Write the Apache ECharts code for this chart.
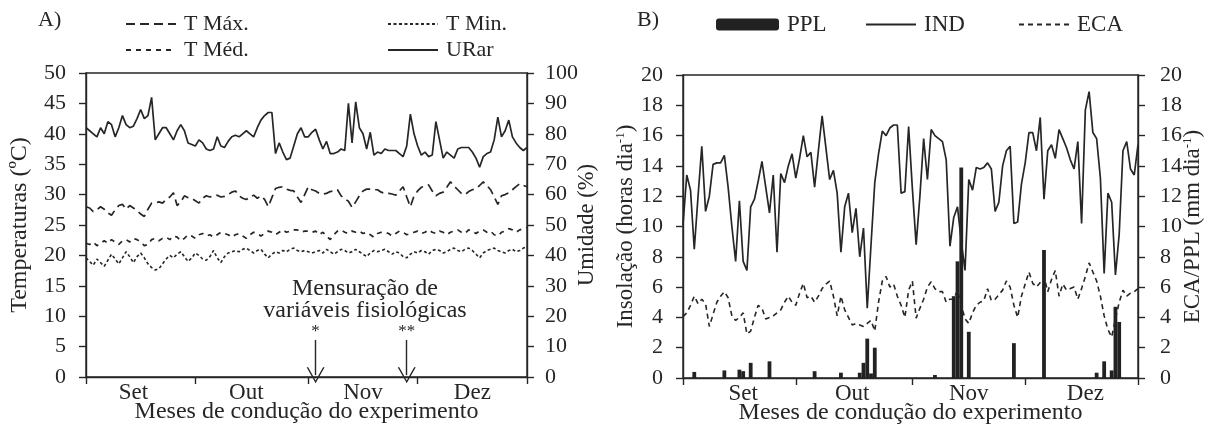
<!DOCTYPE html>
<html>
<head>
<meta charset="utf-8">
<script src="https://cdn.jsdelivr.net/npm/echarts@6/dist/echarts.min.js"></script>
<style>
  html, body { margin: 0; padding: 0; background: #fff; }
  #chart { width: 1211px; height: 427px; }
</style>
</head>
<body>
<div id="chart"></div>
<script>
// months of the experiment (Sept - Dec), one point per day
const months = ['Set', 'Out', 'Nov', 'Dez'];
const monthDays = [30, 31, 30, 31];
// day index under which each month name is written (panel A / panel B)
const monthLabelDayA = [13, 44, 76, 106];
const monthLabelDayB = [16, 45, 76, 107];

// A) air humidity (%) and temperatures (ºC)
const uRar = [
  82, 81, 80, 79, 82, 80, 84, 83, 79, 82,
  86, 83, 82, 82.5, 85, 88, 85, 86, 92, 78,
  80, 82, 82, 80, 78, 81, 83, 81, 77, 76.5,
  76, 78, 77, 75, 74.5, 75, 79, 76, 75.5, 77.5,
  79, 79.5, 79, 80, 81, 80, 79, 82, 84.5, 86,
  87, 87, 73.5, 77, 74, 71.5, 72, 76, 80, 82,
  79, 79, 80.5, 81.5, 78, 75, 77.5, 73.5, 73.5, 74,
  75, 74.5, 90, 77, 90.5, 82, 80, 75, 80.5, 73,
  74, 73.5, 75, 74.5, 74.5, 74.5, 73.5, 72.5, 76, 86.5,
  80, 76, 73, 74, 72.5, 73, 84, 78, 72, 74,
  73, 72, 75, 75.5, 75.5, 75.5, 74, 72, 69, 72.5,
  73.5, 74, 78, 85.5, 79, 81, 84.5, 79, 77, 75.5,
  74.5, 75.5
];
const tMax = [
  28, 27.8, 27.2, 27.5, 28, 27.6, 27, 26.6, 27.5, 28.2,
  28.4, 27.6, 28.2, 27.8, 27.4, 26.8, 26.4, 27.6, 28.6, 28.6,
  28.8, 28.6, 29.2, 29.6, 30.3, 28.2, 28.8, 29.8, 29.5, 29.4,
  29, 28.6, 29.4, 29.8, 29.6, 29.8, 29.9, 29.6, 29.7, 30,
  30.4, 30.6, 29.8, 29.4, 29.2, 29.6, 29.9, 29.4, 29.8, 29.2,
  28, 29.5, 31, 31.2, 31.3, 30.9, 30.7, 30.6, 29.6, 28.7,
  30, 31.3, 30.8, 30.6, 30.2, 30.1, 30.2, 30.5, 30.6, 30.8,
  29.8, 29.3, 28.9, 27.9, 28.8, 29.8, 30.6, 30.9, 30.9, 30.8,
  30.8, 30.4, 30.2, 30.2, 30.1, 29.9, 30.6, 31.3, 29.6, 28,
  29.8, 30.6, 31.2, 31.4, 31.6, 30.6, 29.8, 30.2, 30.4, 31.2,
  32.1, 31.4, 30.8, 30.2, 30, 30.5, 30.8, 31, 31.5, 32.1,
  31.5, 30.8, 29.6, 28.4, 29.8, 30, 30.3, 30.8, 31.3, 31.8,
  31.5, 31.3
];
const tMed = [
  22.0, 21.8, 22.2, 21.6, 22.0, 22.4, 22.0, 22.6, 22.2, 21.8,
  22.4, 22.6, 22.2, 22.8, 22.6, 22.2, 21.6, 21.8, 22.6, 22.8,
  22.4, 22.8, 23.0, 22.6, 23.2, 23.0, 22.4, 22.8, 23.4, 23.2,
  22.8, 23.4, 23.6, 23.2, 23.4, 23.0, 23.4, 23.8, 23.6, 23.4,
  23.0, 23.4, 23.6, 23.2, 22.8, 23.4, 23.8, 23.6, 23.2, 23.6,
  24.0, 23.8, 23.4, 23.8, 24.2, 23.8, 24.0, 24.2, 24.2, 23.8,
  24.0, 24.0, 23.8, 24.0, 23.4, 23.8, 23.2, 22.6, 23.4, 24.0,
  24.2, 23.8, 23.6, 24.0, 23.8, 24.0, 23.6, 23.8, 23.4, 23.0,
  23.6, 23.8, 23.8, 23.6, 23.2, 23.6, 24.0, 23.8, 23.4, 23.6,
  23.8, 24.0, 23.6, 23.8, 24.2, 23.8, 23.6, 24.0, 23.8, 23.4,
  23.8, 24.0, 24.2, 23.8, 23.6, 24.2, 24.0, 23.6, 24.0, 24.2,
  23.8, 24.0, 23.4, 23.2, 23.8, 24.0, 24.4, 24.2, 23.8, 24.2,
  24.4, 24.6
];
const tMin = [
  19.6, 19.0, 18.4, 19.4, 18.8, 18.2, 19.2, 20.2, 19.4, 18.6,
  19.6, 20.6, 19.8, 18.8, 19.8, 20.4, 19.6, 18.6, 18.0, 17.6,
  17.8, 18.6, 19.4, 20.0, 19.6, 20.2, 20.6, 19.8, 19.0, 19.6,
  20.4, 20.0, 19.4, 19.2, 19.8, 20.8, 19.6, 18.8, 19.8, 20.4,
  20.6, 20.8, 20.6, 21.0, 21.2, 20.8, 20.4, 20.8, 21.0, 20.2,
  19.6, 20.2, 20.6, 20.4, 20.8, 20.6, 21.0, 21.2, 20.8, 20.6,
  20.8, 20.6, 20.4, 20.6, 20.8, 20.4, 21.0, 20.6, 20.2, 20.6,
  21.0, 20.8, 20.4, 20.6, 21.0, 20.6, 20.2, 19.8, 20.4, 20.8,
  20.6, 20.8, 21.0, 20.6, 20.2, 20.6, 20.4, 19.8, 19.6, 20.2,
  20.6, 20.4, 20.8, 20.6, 20.2, 20.8, 21.0, 20.8, 20.4, 20.6,
  21.0, 21.2, 20.8, 20.6, 21.0, 21.2, 20.8, 20.2, 19.6, 20.4,
  20.8, 21.0, 21.2, 20.8, 20.6, 20.4, 20.8, 21.0, 20.6, 20.8,
  21.2, 21.4
];
// days on which physiological variables were measured
const measureDays = [63, 88];
const measureMarks = ['*', '**'];

// B) insolation (h/day), class A pan evaporation and rainfall (mm/day)
const ind = [
  10.1, 13.4, 12.4, 8.5, 12.0, 15.3, 11.0, 12.0, 14.1, 14.2,
  14.2, 14.7, 12.6, 10.0, 7.7, 11.7, 7.7, 7.1, 11.3, 11.8,
  13.0, 14.3, 12.6, 10.9, 13.4, 8.3, 13.5, 12.9, 14.0, 14.8,
  13.2, 14.5, 16.0, 14.6, 14.9, 12.6, 15.0, 17.3, 15.2, 13.1,
  13.7, 12.2, 8.3, 11.3, 12.2, 9.6, 11.2, 8.0, 9.9, 4.6,
  8.8, 12.9, 14.8, 16.3, 16.0, 16.5, 16.7, 16.7, 12.2, 12.3,
  16.6, 12.5, 8.8, 12.0, 15.8, 13.1, 16.4, 16.0, 15.8, 15.6,
  14.4, 8.7, 10.6, 11.3, 9.0, 7.1, 13.1, 12.4, 13.9, 13.8,
  13.9, 14.2, 13.8, 11.0, 11.6, 14.0, 15.0, 15.3, 10.2, 10.3,
  12.8, 14.2, 16.2, 16.2, 15.0, 17.2, 11.8, 15.0, 15.4, 14.5,
  16.4, 15.8, 15.2, 14.4, 13.8, 15.6, 10.2, 17.7, 18.9, 16.2,
  15.8, 13.2, 6.9, 12.2, 11.6, 6.8, 9.5, 15.0, 15.6, 13.8,
  13.4, 15.4
];
const eca = [
  4.05, 4.3, 4.8, 5.4, 4.9, 5.2, 4.9, 3.4, 4.2, 5.0,
  5.4, 5.7, 5.3, 4.1, 3.8, 4.0, 4.3, 2.9, 3.1, 4.0,
  4.8, 4.6, 3.9, 4.0, 4.1, 4.3, 4.5, 5.0, 5.4, 5.0,
  4.8, 5.6, 6.25, 5.3, 5.4, 5.0, 5.4, 5.9, 6.2, 6.4,
  5.4, 4.1, 5.4, 4.5, 4.0, 3.5, 3.6, 3.5, 3.4, 3.6,
  3.8, 3.1, 5.0, 6.4, 6.7, 6.0, 6.2, 5.4, 4.8, 4.0,
  5.8, 6.4, 3.95, 4.6, 5.2, 6.0, 6.35, 5.9, 5.7, 5.7,
  5.0, 5.2, 5.2, 5.8, 4.8, 3.9, 3.6, 4.3, 4.8, 5.0,
  5.1, 5.9, 5.1, 5.2, 5.5, 5.8, 6.4, 6.0, 4.8, 4.0,
  5.4, 6.2, 7.0, 6.25, 6.0, 6.3, 6.7, 5.7, 6.5, 7.1,
  5.4, 6.2, 5.8, 5.9, 6.0, 5.2, 5.9, 6.7, 7.6, 7.0,
  6.4, 5.4, 4.1, 3.2, 2.7, 3.9, 5.0, 5.8, 5.4, 5.6,
  5.7, 5.9
];
// rain only on these days
const pplDay = [3, 11, 15, 16, 18, 23, 35, 42, 47, 48, 49, 50, 51, 67, 72, 73, 74, 76, 88, 96, 110, 112, 114, 115, 116];
const pplMm = [0.4, 0.5, 0.55, 0.45, 1.0, 1.1, 0.45, 0.35, 0.35, 1.0, 2.6, 0.3, 2.0, 0.2, 5.4, 7.7, 13.9, 3.05, 2.3, 8.45, 0.35, 1.1, 0.5, 4.7, 3.7];

const FONT = 'Liberation Serif';
const INK = '#262626';

// day categories and month tick positions
const days = [];
const monthStart = [];
months.forEach((m, i) => {
  monthStart.push(days.length);
  for (let d = 1; d <= monthDays[i]; d++) days.push(d + ' ' + m);
});
const lastDay = days.length - 1;

const ppl = pplDay.map((d, i) => [d, pplMm[i]]);

function xAxisFor(gridIndex, labelDays) {
  return {
    type: 'category',
    gridIndex: gridIndex,
    data: days,
    boundaryGap: false,
    name: 'Meses de condução do experimento',
    nameLocation: 'middle',
    nameGap: 23,
    nameMoveOverlap: false,
    nameTextStyle: { fontFamily: FONT, fontSize: 24, color: INK },
    axisLine: { lineStyle: { color: INK, width: 1.4 } },
    axisTick: {
      length: 7,
      lineStyle: { color: INK, width: 1.4 },
      interval: (i) => monthStart.indexOf(i) >= 0 || i === lastDay,
    },
    axisLabel: {
      margin: 4,
      fontFamily: FONT,
      fontSize: 23,
      color: INK,
      interval: (i) => labelDays.indexOf(i) >= 0,
      formatter: (v) => v.split(' ')[1],
    },
    splitLine: { show: false },
  };
}

function yAxisFor(gridIndex, pos, max, interval, name, gap, margin, nameSize) {
  return {
    type: 'value',
    gridIndex: gridIndex,
    position: pos,
    min: 0,
    max: max,
    interval: interval,
    name: name,
    nameLocation: 'middle',
    nameRotate: 90,
    nameGap: gap,
    nameMoveOverlap: false,
    nameTextStyle: {
      fontFamily: FONT,
      fontSize: nameSize,
      color: INK,
      rich: { sup: { fontFamily: FONT, fontSize: 13, color: INK, padding: [0, 0, 11, 0] } },
    },
    axisLine: { show: true, lineStyle: { color: INK, width: 1.4 } },
    axisTick: { show: true, length: 7, lineStyle: { color: INK, width: 1.4 } },
    axisLabel: { margin: margin, fontFamily: FONT, fontSize: 22, color: INK },
    splitLine: { show: false },
  };
}

const lineBase = {
  type: 'line',
  symbol: 'none',
  smooth: false,
  animation: false,
};

const chart = echarts.init(document.getElementById('chart'));
chart.setOption({
  animation: false,
  backgroundColor: '#fff',
  textStyle: { fontFamily: FONT },
  grid: [
    { left: 86, right: 684, top: 73, bottom: 50, outerBoundsMode: 'none', show: true, borderColor: INK, borderWidth: 1.4 },
    { left: 683, right: 73, top: 75, bottom: 49, outerBoundsMode: 'none', show: true, borderColor: INK, borderWidth: 1.4 },
  ],
  legend: [
    { left: 120, top: 8, data: ['T Máx.'] },
    { left: 382, top: 8, data: ['T Min.'] },
    { left: 120, top: 34, data: ['T Méd.'] },
    { left: 382, top: 34, data: ['URar'] },
    { left: 711, top: 8, data: ['PPL'], itemWidth: 63, itemHeight: 12, itemStyle: { opacity: 1 }, textStyle: { fontFamily: FONT, fontSize: 23, color: INK, padding: [0, 0, 0, 3] } },
    { left: 860, top: 8, data: ['IND'], textStyle: { fontFamily: FONT, fontSize: 23, color: INK, padding: [0, 0, 0, 3] } },
    { left: 1013, top: 8, data: ['ECA'], textStyle: { fontFamily: FONT, fontSize: 23, color: INK, padding: [0, 0, 0, 3] } },
  ].map((l) => Object.assign({
    orient: 'horizontal',
    itemWidth: 50,
    itemHeight: 14,
    itemGap: 0,
    selectedMode: false,
    itemStyle: { opacity: 0 },
    textStyle: { fontFamily: FONT, fontSize: 22, color: INK, padding: [0, 0, 0, 3] },
  }, l)),
  graphic: [
    { type: 'text', left: 38, top: 9, style: { text: 'A)', font: '22px "Liberation Serif"', fill: INK } },
    { type: 'text', left: 637, top: 9, style: { text: 'B)', font: '22px "Liberation Serif"', fill: INK } },
    { type: 'text', x: 365, y: 289, style: { text: 'Mensuração de', font: '24px "Liberation Serif"', fill: INK, align: 'center', verticalAlign: 'middle' } },
    { type: 'text', x: 365, y: 311, style: { text: 'variáveis fisiológicas', font: '24px "Liberation Serif"', fill: INK, align: 'center', verticalAlign: 'middle' } },
  ],
  xAxis: [xAxisFor(0, monthLabelDayA), xAxisFor(1, monthLabelDayB)],
  yAxis: [
    yAxisFor(0, 'left', 50, 5, 'Temperaturas (ºC)', 54, 20, 24),
    yAxisFor(0, 'right', 100, 10, 'Umidade (%)', 49, 18, 22.5),
    yAxisFor(1, 'left', 20, 2, 'Insolação (horas dia{sup|-1})', 45, 20, 23),
    yAxisFor(1, 'right', 20, 2, 'ECA/PPL (mm dia{sup|-1})', 43, 22, 23),
  ],
  series: [
    Object.assign({}, lineBase, {
      name: 'T Máx.', xAxisIndex: 0, yAxisIndex: 0, data: tMax,
      lineStyle: { color: INK, width: 1.7, type: [9, 5] },
      itemStyle: { color: INK },
    }),
    Object.assign({}, lineBase, {
      name: 'T Min.', xAxisIndex: 0, yAxisIndex: 0, data: tMin,
      lineStyle: { color: INK, width: 1.6, type: [3, 2.5] },
      itemStyle: { color: INK },
      markLine: {
        silent: true,
        animation: false,
        symbol: ['none', 'path://M0,14 L8,0 L16,14 L14.6,14 L8,2.4 L1.4,14 Z'],
        symbolSize: [18, 16],
        lineStyle: { color: INK, width: 1.4, type: 'solid' },
        label: { show: true, position: 'start', distance: 0, formatter: '{b}', fontFamily: FONT, fontSize: 17, color: INK },
        data: measureDays.map((d, i) => [
          { name: measureMarks[i], coord: [days[d], 6.1] },
          { coord: [days[d], 0.3] },
        ]),
      },
    }),
    Object.assign({}, lineBase, {
      name: 'T Méd.', xAxisIndex: 0, yAxisIndex: 0, data: tMed,
      lineStyle: { color: INK, width: 1.7, type: [5, 5] },
      itemStyle: { color: INK },
    }),
    Object.assign({}, lineBase, {
      name: 'URar', xAxisIndex: 0, yAxisIndex: 1, data: uRar,
      lineStyle: { color: INK, width: 1.7, type: 'solid' },
      itemStyle: { color: INK },
    }),
    {
      name: 'PPL', type: 'bar', xAxisIndex: 1, yAxisIndex: 3, data: ppl,
      barWidth: 3.8,
      itemStyle: { color: '#222' },
      animation: false,
    },
    Object.assign({}, lineBase, {
      name: 'IND', xAxisIndex: 1, yAxisIndex: 2, data: ind,
      lineStyle: { color: INK, width: 1.7, type: 'solid' },
      itemStyle: { color: INK },
    }),
    Object.assign({}, lineBase, {
      name: 'ECA', xAxisIndex: 1, yAxisIndex: 3, data: eca,
      lineStyle: { color: INK, width: 1.6, type: [5, 4] },
      itemStyle: { color: INK },
    }),
  ],
});
</script>
</body>
</html>
